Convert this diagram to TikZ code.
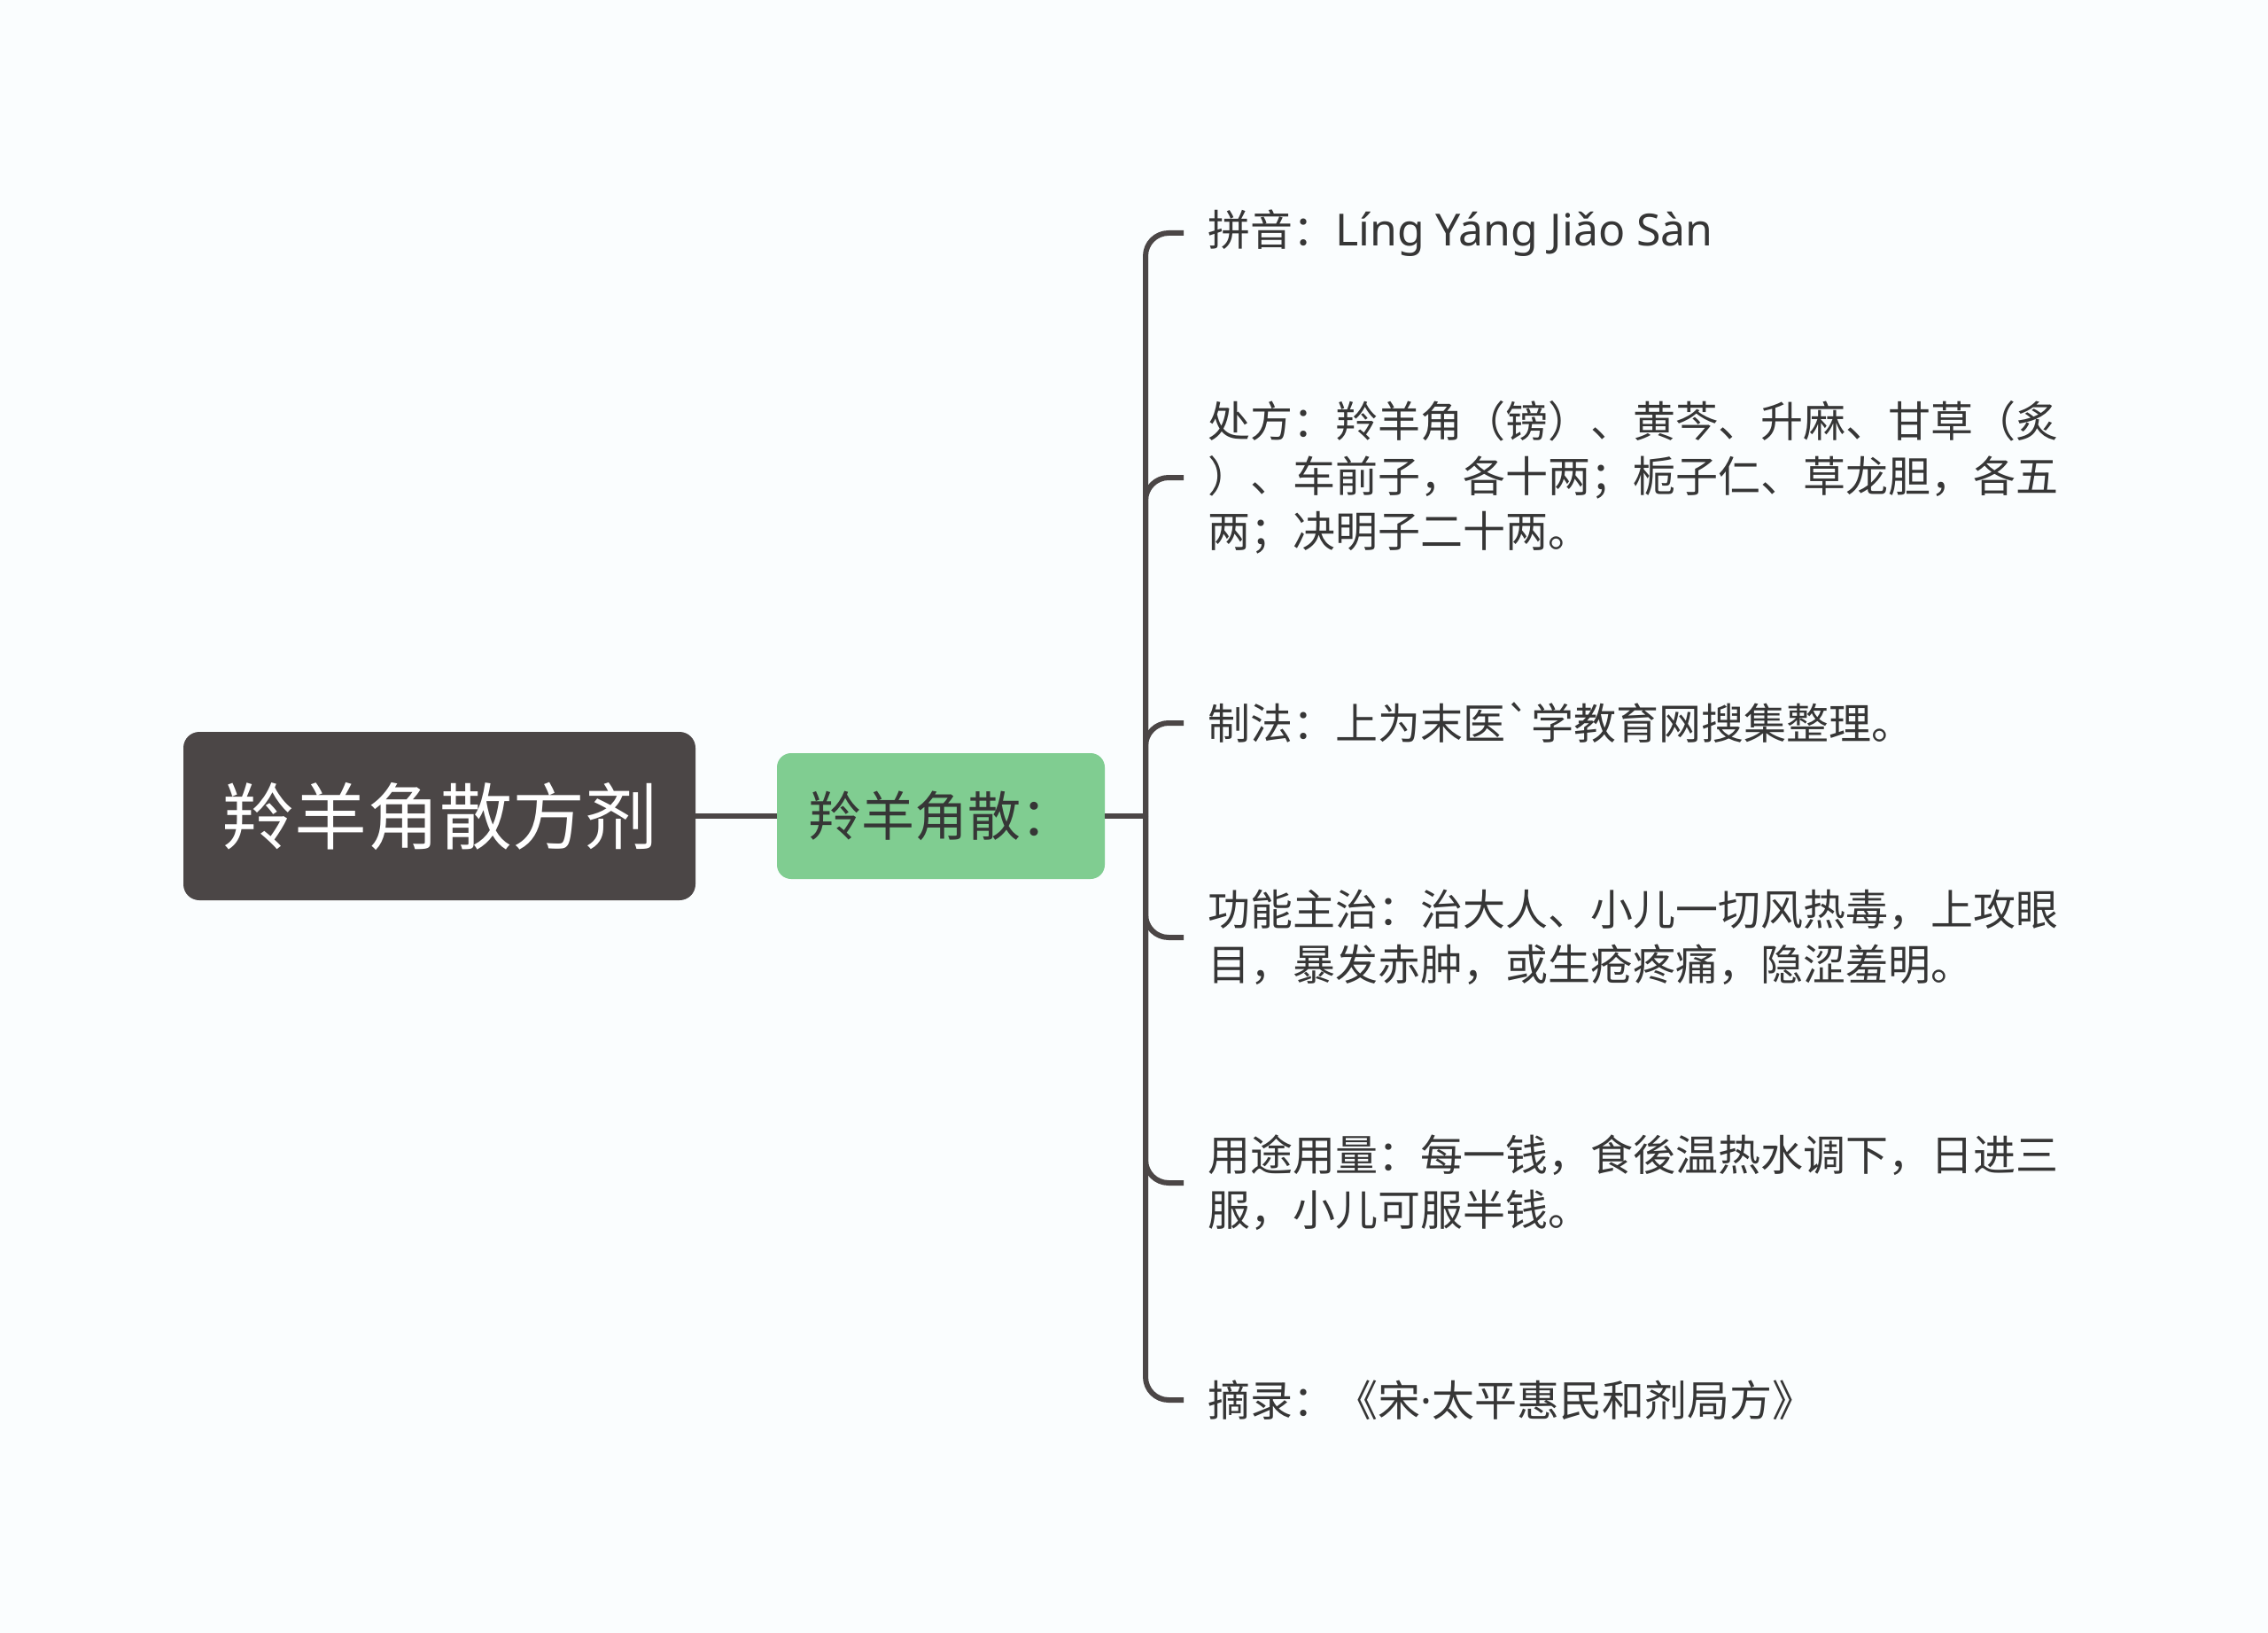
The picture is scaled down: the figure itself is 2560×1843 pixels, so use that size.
\documentclass[tikz,border=0pt]{standalone}
\usepackage{fontspec}
\newfontfamily\cjk{Noto Sans CJK SC}[Ligatures=TeXOff]
\newfontfamily\lat{Noto Sans}
\definecolor{bg}{HTML}{FAFDFE}
\definecolor{rootfill}{HTML}{4B4646}
\definecolor{linec}{HTML}{4B4646}
\definecolor{greenfill}{HTML}{80CD91}
\definecolor{txt}{HTML}{363636}
\begin{document}
\begin{tikzpicture}[x=1pt,y=-1pt,
  rootbox/.style={fill=rootfill, rounded corners=18pt, minimum width=578pt, minimum height=190pt,
    text=white, font=\cjk\fontsize{82}{96}\selectfont, inner sep=0pt},
  subbox/.style={fill=greenfill, rounded corners=16pt, minimum width=370pt, minimum height=142pt,
    text=txt, font=\cjk\fontsize{60}{72}\selectfont, inner sep=0pt},
  leaf/.style={anchor=west, align=left, text=txt, font=\cjk\fontsize{48}{62}\selectfont,
    inner xsep=27pt, inner ysep=0pt},
  link/.style={draw=linec, line width=6pt},
  branch/.style={link, rounded corners=26pt}]
\fill[bg] (0,0) rectangle (2560,1843);
\useasboundingbox (0,0) rectangle (2560,1843);
\node[rootbox] (root) at (496,921) {羚羊角散方剂};
\node[subbox] (sub) at (1062,921) {羚羊角散：};
\coordinate (j) at (1293,921);
\node[leaf] (l1) at (1336,263) {拼音：{\lat\fontsize{50}{62}\selectfont Líng Yáng Jiǎo Sàn}};
\node[leaf] (l2) at (1336,539) {处方：羚羊角（镑）、黄芩、升麻、甘草（炙\\）、车前子，各十两；栀子仁、草龙胆，各五\\两；决明子二十两。};
\node[leaf] (l3) at (1336,816) {制法：上为末医`学教育网搜集整理。};
\node[leaf] (l4) at (1336,1058) {功能主治：治大人、小儿一切风热毒，上攻眼\\目，暴发赤肿，或生疮疼痛，隐涩羞明。};
\node[leaf] (l5) at (1336,1335) {用途用量：每一钱，食後温热水调下，日进三\\服，小儿可服半钱。};
\node[leaf] (l6) at (1336,1580) {摘录：《宋{\lat ·}太平惠民和剂局方》};
\draw[link] (root.east) -- (sub.west);
\draw[link] (sub.east) -- (j);
\foreach \n in {l1,l2,l3,l4,l5,l6} \draw[branch] (j) |- (\n.west);
\end{tikzpicture}
\end{document}
